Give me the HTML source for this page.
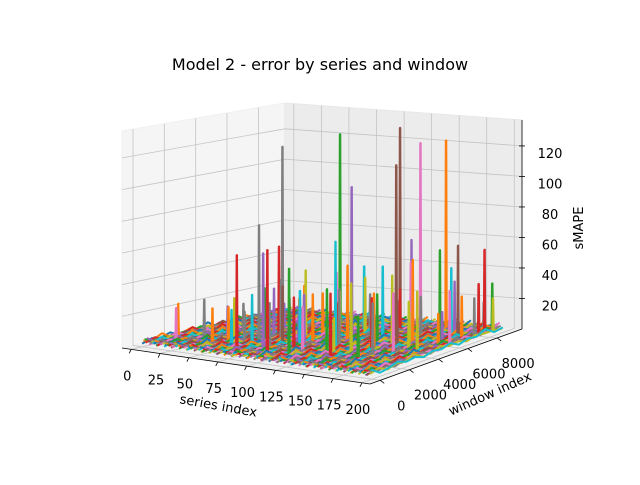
<!DOCTYPE html>
<html><head><meta charset="utf-8"><style>
html,body{margin:0;padding:0;background:#fff;}
svg text{font-family:"DejaVu Sans","Liberation Sans",sans-serif;fill:#000;}
</style></head><body>
<svg id="chart" width="640" height="480" viewBox="0 0 640 480" xmlns="http://www.w3.org/2000/svg">
<text x="320" y="70" font-size="16" text-anchor="middle">Model 2 - error by series and window</text>
<g id="panes"></g>
<g id="grid"></g>
<g id="series"></g>
<g id="axes"></g>
<text x="218" y="410" font-size="13" text-anchor="middle" transform="rotate(10 218 408)">series index</text>
<text x="490" y="398" font-size="13" text-anchor="middle" transform="rotate(-24 490 394)">window index</text>
<text x="583" y="228" font-size="13" text-anchor="middle" transform="rotate(-90 583 228)">sMAPE</text>
</svg>
<script>
const seriesTicks=[0,25,50,75,100,125,150,175,200];
const windowTicks=[0,2000,4000,6000,8000];
const zTicks=[20,40,60,80,100,120];
const windowSamples=[0,600,1200,1800,2400,3000,3600,4200,4800,5400,6000,6600,7200,7800,8400,9000];
const baselineNoise=[2,4,3,5,2,4,3,6,2,3,5,3,4];
// spikes: series index, window index, sMAPE
const spikeSeries=[47,82,114,125,135,146,161,193,185,93,73,67,41,37,51,57,63,77,88,99,101,106,118,121,129,132,139,143,151,154,158,167,171,176,179,182,188,196,191,197,193,198,192,44,54,61,69,75,85,91,96,103,109,116,123,148,156,165,174,191,27,11,16,34,48,59,64,72,81,87,94,98,104,111,117,127,133,138,142,145,153,157,162,168,173,178,184,187,112,84];
const spikeWindow=[5600,6800,5200,7600,6600,7400,8000,8200,7000,1200,700,2600,1500,3800,1800,2400,4200,3300,4100,2900,3600,4800,5800,4400,3000,2200,5400,1600,3900,6200,4600,2600,5000,3300,7000,6000,4000,5600,6800,7200,7800,8400,8800,4600,5200,6000,2000,4000,2800,5000,3400,2200,6400,1800,3600,2600,6000,4400,7600,5200,2000,1500,1000,3000,2400,1400,3800,2600,4200,1800,3200,5600,2800,4400,6200,3400,7000,2200,4800,5800,3600,6600,2000,5000,7400,4200,6000,8600,1200,1600];
const spikeValue=[120,128,100,133,112,125,126,56,62,68,64,78,25,22,26,22,60,42,47,38,34,45,40,52,72,44,50,44,38,66,48,37,58,42,47,62,42,38,30,28,35,24,32,18,20,30,35,28,40,30,34,36,45,32,30,48,52,33,36,24,28,25,24,22,30,26,34,38,28,32,26,30,36,24,28,40,30,26,34,22,36,28,30,24,26,34,22,20,58,64];
const colors=['#1f77b4','#ff7f0e','#2ca02c','#d62728','#9467bd','#8c564b','#e377c2','#7f7f7f','#bcbd22','#17becf'];
const sMin=-8,sMax=207,wMin=-700,wMax=9700,zMin=0,zMax=137;
const Lc=[122,348],Fc=[370,384],Bc=[285,311],Rc=[522,329];
const Hl=217,Hf=215,Hb=208,Hr=209;
function proj(s,w,z){
  const u=(s-sMin)/(sMax-sMin),v=(w-wMin)/(wMax-wMin);
  const a=(1-u)*(1-v),b=u*(1-v),c=(1-u)*v,d=u*v;
  const x=a*Lc[0]+b*Fc[0]+c*Bc[0]+d*Rc[0];
  const y=a*Lc[1]+b*Fc[1]+c*Bc[1]+d*Rc[1];
  const h=a*Hl+b*Hf+c*Hb+d*Hr;
  return [x,y-(z-zMin)/(zMax-zMin)*h];
}
const NS='http://www.w3.org/2000/svg';
function mk(tag,attrs,parent){const e=document.createElementNS(NS,tag);for(const k in attrs)e.setAttribute(k,attrs[k]);parent.appendChild(e);return e;}
function pts(arr){return arr.map(p=>p[0].toFixed(1)+','+p[1].toFixed(1)).join(' ');}
const panes=document.getElementById('panes'),grid=document.getElementById('grid'),sg=document.getElementById('series'),ax=document.getElementById('axes');
let p=mk('polygon',{points:pts([proj(sMin,wMin,zMin),proj(sMin,wMax,zMin),proj(sMin,wMax,zMax),proj(sMin,wMin,zMax)]),fill:'#f5f5f5',stroke:'#f0f0f0'},panes);

p=mk('polygon',{points:pts([proj(sMin,wMax,zMin),proj(sMax,wMax,zMin),proj(sMax,wMax,zMax),proj(sMin,wMax,zMax)]),fill:'#ececec',stroke:'#e8e8e8'},panes);

p=mk('polygon',{points:pts([proj(sMin,wMin,zMin),proj(sMax,wMin,zMin),proj(sMax,wMax,zMin),proj(sMin,wMax,zMin)]),fill:'#f0f0f0',stroke:'none'},panes);

const gc='#c4c4c4';
seriesTicks.forEach(t=>{
  let l=mk('polyline',{points:pts([proj(t,wMin,zMin),proj(t,wMax,zMin),proj(t,wMax,zMax)]),fill:'none',stroke:gc,'stroke-width':0.8},grid);
  
});
windowTicks.forEach(t=>{
  let l=mk('polyline',{points:pts([proj(sMax,t,zMin),proj(sMin,t,zMin),proj(sMin,t,zMax)]),fill:'none',stroke:gc,'stroke-width':0.8},grid);
  
});
zTicks.forEach(t=>{
  let l=mk('polyline',{points:pts([proj(sMin,wMin,t),proj(sMin,wMax,t),proj(sMax,wMax,t)]),fill:'none',stroke:gc,'stroke-width':0.8},grid);
  
});
for(let i=0;i<200;i++){
  let arr=windowSamples.map((w,j)=>[w,baselineNoise[(i*5+j)%baselineNoise.length]]);
  spikeSeries.forEach((s,k)=>{if(s===i){const w=spikeWindow[k];arr.push([w-50,3],[w-15,spikeValue[k]],[w+15,spikeValue[k]],[w+50,3]);}});
  arr.sort((a,b)=>a[0]-b[0]);
  let l=mk('polyline',{points:pts(arr.map(q=>proj(i,q[0],q[1]))),fill:'none',stroke:colors[i%10],'stroke-width':2,'stroke-linejoin':'round'},sg);
  
}
let a=mk('line',{x1:proj(sMin,wMin,zMin)[0],y1:proj(sMin,wMin,zMin)[1],x2:proj(sMax,wMin,zMin)[0],y2:proj(sMax,wMin,zMin)[1],stroke:'#000','stroke-width':0.8},ax);

a=mk('line',{x1:proj(sMax,wMin,zMin)[0],y1:proj(sMax,wMin,zMin)[1],x2:proj(sMax,wMax,zMin)[0],y2:proj(sMax,wMax,zMin)[1],stroke:'#000','stroke-width':0.8},ax);

a=mk('line',{x1:proj(sMax,wMax,zMin)[0],y1:proj(sMax,wMax,zMin)[1],x2:proj(sMax,wMax,zMax)[0],y2:proj(sMax,wMax,zMax)[1],stroke:'#000','stroke-width':0.8},ax);

seriesTicks.forEach(t=>{
  const q=proj(t,wMin,zMin);
  let l=mk('line',{x1:q[0],y1:q[1],x2:q[0]-2,y2:q[1]+4,stroke:'#000','stroke-width':0.8},ax);
  
  let tx=mk('text',{x:q[0]-4,y:q[1]+31,'font-size':13,'text-anchor':'middle'},ax);tx.textContent=t;
  
});
windowTicks.forEach(t=>{
  const q=proj(sMax,t,zMin);
  let l=mk('line',{x1:q[0],y1:q[1],x2:q[0]+4,y2:q[1]+3,stroke:'#000','stroke-width':0.8},ax);
  
  let tx=mk('text',{x:q[0]+21,y:q[1]+30,'font-size':13,'text-anchor':'middle'},ax);tx.textContent=t;
  
});
zTicks.forEach(t=>{
  const q=proj(sMax,wMax,t);
  let l=mk('line',{x1:q[0]-3,y1:q[1],x2:q[0]+3,y2:q[1],stroke:'#000','stroke-width':0.8},ax);
  
  let tx=mk('text',{x:q[0]+28,y:q[1]+12,'font-size':13,'text-anchor':'middle'},ax);tx.textContent=t;
  
});
</script>
</body></html>
